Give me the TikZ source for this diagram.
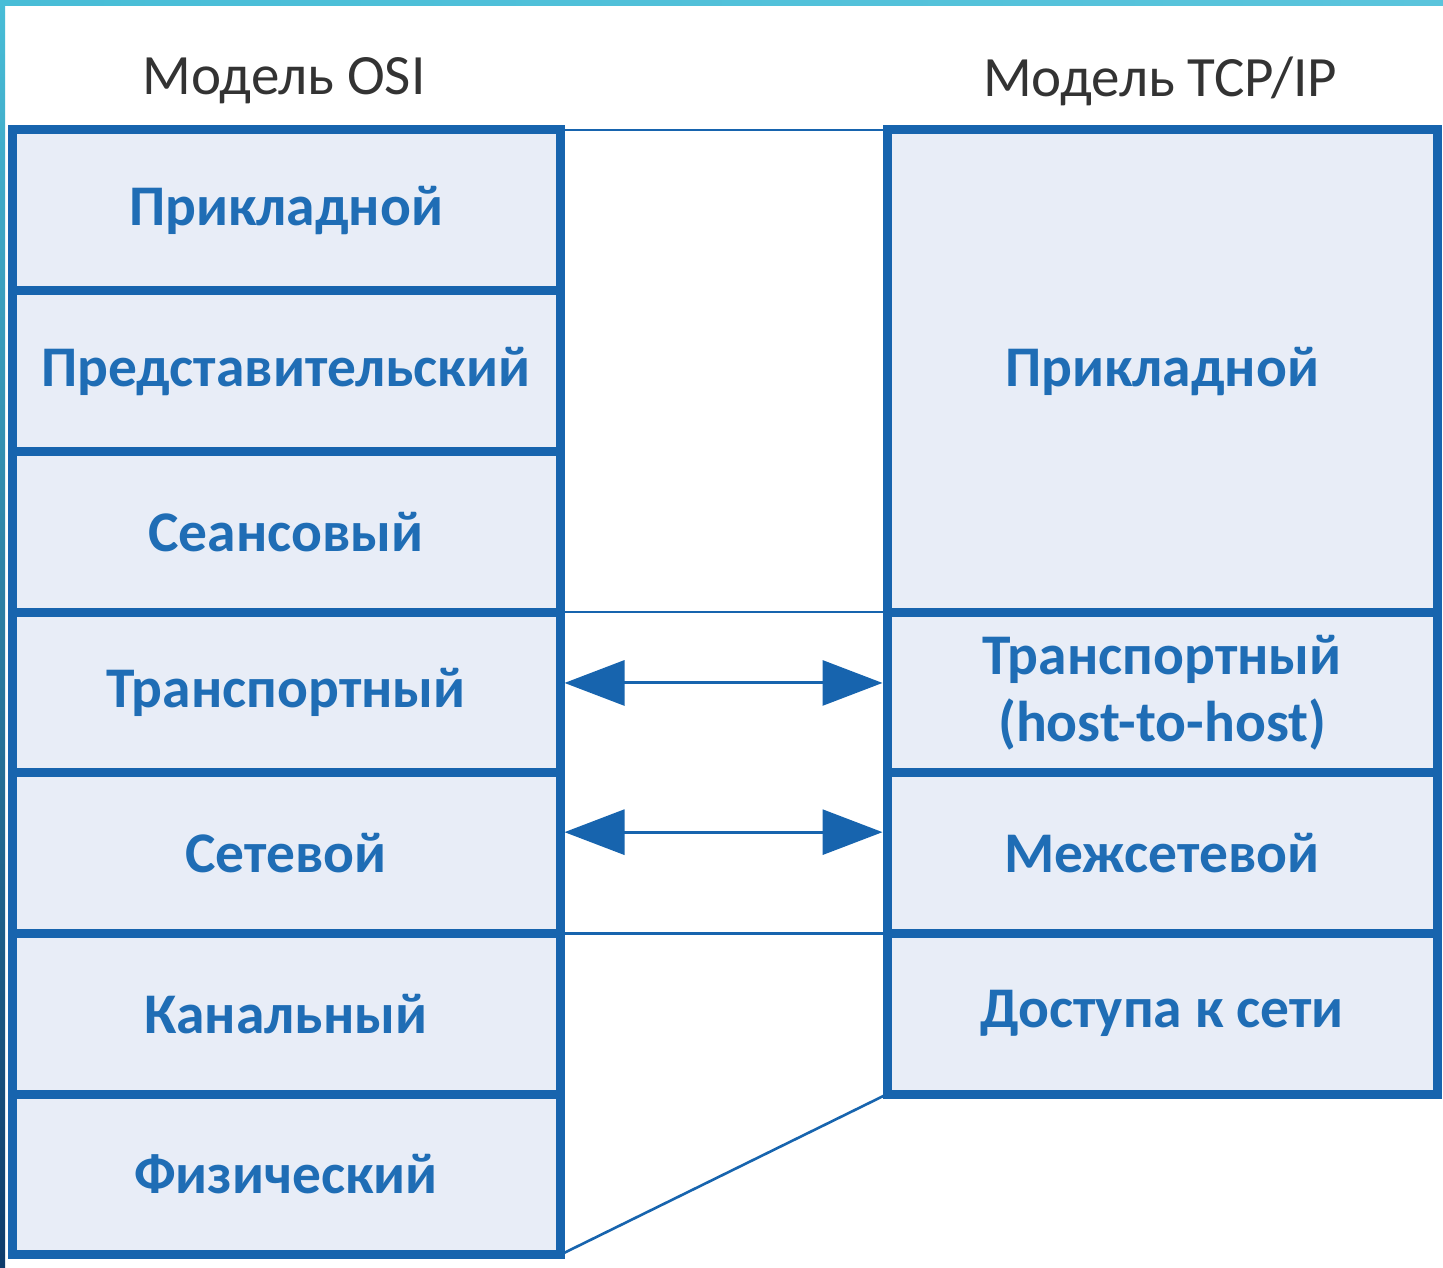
\documentclass[tikz,border=0pt]{standalone}
\usepackage{fontspec}
\setmainfont{Carlito}
\usetikzlibrary{arrows.meta}
\definecolor{layerline}{HTML}{1764AE}
\definecolor{layerfill}{HTML}{E8EDF7}
\definecolor{layertext}{HTML}{1F6DB5}
\definecolor{headtext}{HTML}{333333}
\definecolor{framecyan}{HTML}{48BDD7}
\definecolor{framecyanb}{HTML}{5AC4DC}
\definecolor{framenavy}{HTML}{0E3B6B}
\begin{document}
\begin{tikzpicture}[x=1pt,y=-1pt,
  layer/.style={draw=layerline, fill=layerfill, line width=9pt, outer sep=0pt,
    inner sep=0pt, anchor=north west, align=center, text=layertext,
    font=\fontsize{57.5}{67}\selectfont\bfseries},
  osibox/.style={layer, minimum width=548pt, minimum height=160.7pt},
  tcpbox/.style={layer, minimum width=550pt, minimum height=160.7pt},
  header/.style={text=headtext, font=\fontsize{57}{67}\selectfont, inner sep=0pt},
  link/.style={draw=layerline, line width=2.6pt},
  arr/.style={draw=layerline, line width=3pt,
    {Triangle[length=60pt,width=45pt]}-{Triangle[length=60pt,width=45pt]},
    shorten <=4.5pt, shorten >=4.5pt}]
% canvas and frame strips
\fill[white] (0,0) rectangle (1443,1268);
\useasboundingbox (0,0) rectangle (1443,1268);
\shade[top color=framecyan, bottom color=framenavy] (0,0) rectangle (5,1268);
\shade[left color=framecyan, right color=framecyanb] (0,0) rectangle (1443,6);

% titles
\node[header] (hosi) at (284,81) {Модель OSI};
\node[header] (htcp) at (1160,81) {Модель TCP/IP};

% OSI stack
\node[osibox] (osi1) at (12,130)    {Прикладной};
\node[osibox] (osi2) at (12,290.7)  {Представительский};
\node[osibox] (osi3) at (12,451.4)  {Сеансовый};
\node[osibox] (osi4) at (12,612.1)  {Транспортный};
\node[osibox] (osi5) at (12,772.8)  {Сетевой};
\node[osibox] (osi6) at (12,933.5)  {Канальный};
\node[osibox] (osi7) at (12,1094.2) {Физический};

% TCP/IP stack
\node[tcpbox, minimum height=482.1pt] (tcp1) at (887,130) {Прикладной};
\node[tcpbox] (tcp2) at (887,612.1) {Транспортный\\(host-to-host)};
\node[tcpbox] (tcp3) at (887,772.8) {Межсетевой};
\node[tcpbox] (tcp4) at (887,933.5) {Доступа к сети};

% correspondence lines
\draw[link] (osi1.north east) -- (tcp1.north west);
\draw[link] (osi4.north east) -- (tcp2.north west);
\draw[link] (osi6.north east) -- (tcp4.north west);
\draw[link] (osi7.south east) -- (tcp4.south west);

% peer exchange arrows
\draw[arr] ([yshift=9.5pt]osi4.east) -- ([yshift=9.5pt]tcp2.west);
\draw[arr] ([yshift=21pt]osi5.east) -- ([yshift=21pt]tcp3.west);
\end{tikzpicture}
\end{document}
